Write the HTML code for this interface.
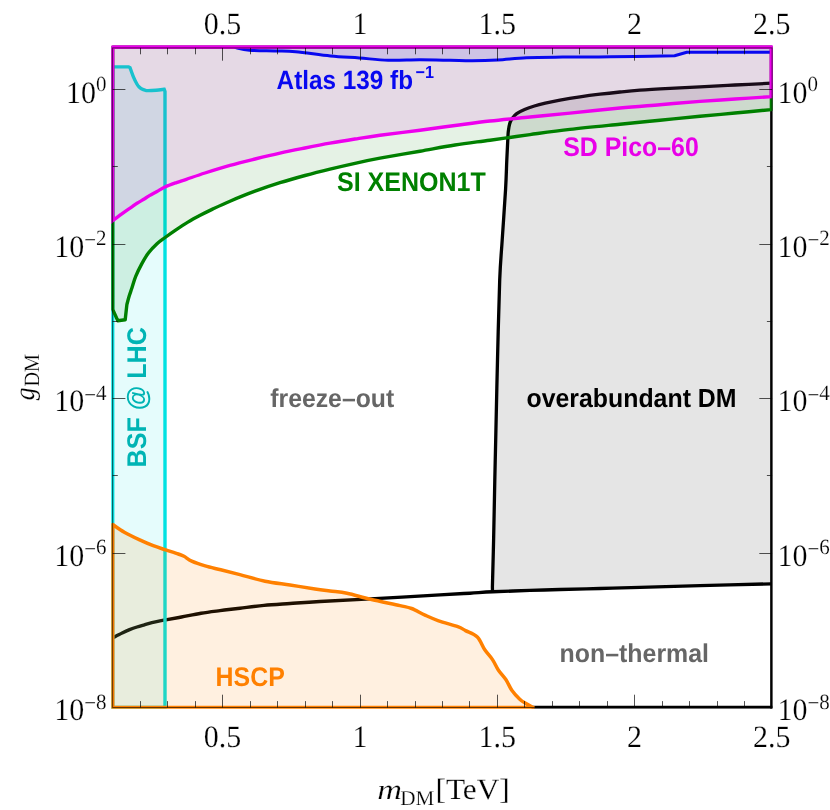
<!DOCTYPE html>
<html><head><meta charset="utf-8"><title>plot</title>
<style>
html,body{margin:0;padding:0;background:#fff;}
body{width:830px;height:810px;overflow:hidden;font-family:"Liberation Sans",sans-serif;}
svg{display:block;will-change:transform;}
text{-webkit-font-smoothing:antialiased;}
</style></head><body>
<svg width="830" height="810" viewBox="0 0 830 810" text-rendering="geometricPrecision">
<rect width="830" height="810" fill="#ffffff"/>
<defs><clipPath id="pc"><rect x="111.3" y="44.8" width="661.3" height="664.0"/></clipPath></defs>
<g clip-path="url(#pc)">
<path d="M771.40 83.20 C765.33 83.50 746.90 84.38 735.00 85.00 C723.10 85.62 710.83 86.33 700.00 86.90 C689.17 87.47 680.00 87.85 670.00 88.40 C660.00 88.95 648.33 89.60 640.00 90.20 C631.67 90.80 626.67 91.33 620.00 92.00 C613.33 92.67 606.67 93.38 600.00 94.20 C593.33 95.02 586.67 95.90 580.00 96.90 C573.33 97.90 565.78 99.15 560.00 100.20 C554.22 101.25 549.57 102.23 545.30 103.20 C541.03 104.17 537.85 104.95 534.40 106.00 C530.95 107.05 527.55 108.23 524.60 109.50 C521.65 110.77 518.77 112.10 516.70 113.60 C514.63 115.10 513.36 116.85 512.20 118.50 C511.04 120.15 510.40 121.35 509.75 123.50 C509.10 125.65 508.62 128.77 508.30 131.40 C507.98 134.03 508.05 134.53 507.80 139.30 C507.55 144.07 507.17 151.75 506.80 160.00 C506.43 168.25 506.37 175.47 505.60 188.80 C504.83 202.13 503.18 224.80 502.20 240.00 C501.22 255.20 500.48 260.00 499.70 280.00 C498.92 300.00 498.17 333.33 497.50 360.00 C496.83 386.67 496.15 420.00 495.70 440.00 C495.25 460.00 495.15 463.33 494.80 480.00 C494.45 496.67 494.00 522.17 493.60 540.00 C493.20 557.83 492.60 579.17 492.40 587.00 L492.50 591.80 C498.92 591.57 518.78 590.78 530.00 590.40 C541.22 590.02 548.33 589.82 560.00 589.50 C571.67 589.18 586.67 588.85 600.00 588.50 C613.33 588.15 623.33 587.88 640.00 587.40 C656.67 586.92 678.10 586.18 700.00 585.60 C721.90 585.02 759.50 584.18 771.40 583.90 Z" fill="#000" fill-opacity="0.10" stroke="none"/>
<path d="M771.40 83.20 C765.33 83.50 746.90 84.38 735.00 85.00 C723.10 85.62 710.83 86.33 700.00 86.90 C689.17 87.47 680.00 87.85 670.00 88.40 C660.00 88.95 648.33 89.60 640.00 90.20 C631.67 90.80 626.67 91.33 620.00 92.00 C613.33 92.67 606.67 93.38 600.00 94.20 C593.33 95.02 586.67 95.90 580.00 96.90 C573.33 97.90 565.78 99.15 560.00 100.20 C554.22 101.25 549.57 102.23 545.30 103.20 C541.03 104.17 537.85 104.95 534.40 106.00 C530.95 107.05 527.55 108.23 524.60 109.50 C521.65 110.77 518.77 112.10 516.70 113.60 C514.63 115.10 513.36 116.85 512.20 118.50 C511.04 120.15 510.40 121.35 509.75 123.50 C509.10 125.65 508.62 128.77 508.30 131.40 C507.98 134.03 508.05 134.53 507.80 139.30 C507.55 144.07 507.17 151.75 506.80 160.00 C506.43 168.25 506.37 175.47 505.60 188.80 C504.83 202.13 503.18 224.80 502.20 240.00 C501.22 255.20 500.48 260.00 499.70 280.00 C498.92 300.00 498.17 333.33 497.50 360.00 C496.83 386.67 496.15 420.00 495.70 440.00 C495.25 460.00 495.15 463.33 494.80 480.00 C494.45 496.67 494.00 522.17 493.60 540.00 C493.20 557.83 492.60 579.17 492.40 587.00 L492.50 591.80" fill="none" stroke="#000000" stroke-width="3.30" stroke-linejoin="round"/>
<path d="M112.70 637.80 C114.28 637.00 119.38 634.35 122.20 633.00 C125.02 631.65 127.13 630.70 129.60 629.70 C132.07 628.70 134.53 627.82 137.00 627.00 C139.47 626.18 141.92 625.52 144.40 624.80 C146.88 624.08 149.30 623.35 151.90 622.70 C154.50 622.05 157.70 621.37 160.00 620.90 C162.30 620.43 162.12 620.55 165.70 619.90 C169.28 619.25 175.62 618.12 181.50 617.00 C187.38 615.88 194.58 614.27 201.00 613.20 C207.42 612.13 213.50 611.43 220.00 610.60 C226.50 609.77 232.67 609.07 240.00 608.20 C247.33 607.33 255.65 606.18 264.00 605.40 C272.35 604.62 280.77 604.15 290.10 603.50 C299.43 602.85 306.60 602.27 320.00 601.50 C333.40 600.73 350.50 600.00 370.50 598.90 C390.50 597.80 423.42 595.85 440.00 594.90 C456.58 593.95 461.22 593.72 470.00 593.20 C478.78 592.68 482.70 592.27 492.70 591.80 C502.70 591.33 518.78 590.78 530.00 590.40 C541.22 590.02 548.33 589.82 560.00 589.50 C571.67 589.18 586.67 588.85 600.00 588.50 C613.33 588.15 623.33 587.88 640.00 587.40 C656.67 586.92 678.10 586.18 700.00 585.60 C721.90 585.02 759.50 584.18 771.40 583.90" fill="none" stroke="#000000" stroke-width="3.40" stroke-linejoin="round"/>
<path d="M531.50 707.30 L772.60 707.30" fill="none" stroke="#000" stroke-width="3.0"/>
<path d="M771.40 83.00 L771.40 708.70" fill="none" stroke="#000000" stroke-width="2.5"/>
<path d="M112.70 66.90 L128.60 66.90 L130.00 67.60 C130.57 69.15 132.25 74.17 133.40 76.90 C134.55 79.63 135.93 82.32 136.90 84.00 C137.87 85.68 138.37 86.17 139.20 87.00 C140.03 87.83 140.93 88.47 141.90 89.00 C142.87 89.53 143.98 89.93 145.00 90.20 C146.02 90.47 146.17 90.60 148.00 90.60 C149.83 90.60 153.30 90.42 156.00 90.20 C158.70 89.98 162.83 89.45 164.20 89.30 L165.00 91.50 L165.00 707.40 L112.70 707.40 Z" fill="#00e2e2" fill-opacity="0.10" stroke="#00e2e2" stroke-width="3.40" stroke-linejoin="miter"/>
<path d="M112.70 524.50 C114.63 525.78 119.80 529.63 124.30 532.20 C128.80 534.77 134.88 537.65 139.70 539.90 C144.52 542.15 148.87 544.03 153.20 545.70 C157.53 547.37 161.52 548.52 165.70 549.90 C169.88 551.28 175.25 552.93 178.30 554.00 C181.35 555.07 181.77 555.12 184.00 556.30 C186.23 557.48 188.17 559.50 191.70 561.10 C195.23 562.70 200.37 564.45 205.20 565.90 C210.03 567.35 214.92 568.35 220.70 569.80 C226.48 571.25 232.52 572.70 239.90 574.60 C247.28 576.50 256.65 579.47 265.00 581.20 C273.35 582.93 281.67 583.72 290.00 585.00 C298.33 586.28 308.33 587.90 315.00 588.90 C321.67 589.90 324.67 590.27 330.00 591.00 C335.33 591.73 340.25 591.92 347.00 593.30 C353.75 594.68 361.67 597.25 370.50 599.30 C379.33 601.35 393.15 604.07 400.00 605.60 C406.85 607.13 407.43 606.92 411.60 608.50 C415.77 610.08 420.50 613.05 425.00 615.10 C429.50 617.15 433.13 618.88 438.60 620.80 C444.07 622.72 453.32 624.97 457.80 626.60 C462.28 628.23 462.25 628.87 465.50 630.60 C468.75 632.33 474.08 633.80 477.30 637.00 C480.52 640.20 482.27 646.03 484.80 649.80 C487.33 653.57 490.25 656.23 492.50 659.60 C494.75 662.97 496.05 666.63 498.30 670.00 C500.55 673.37 503.75 676.43 506.00 679.80 C508.25 683.17 509.55 687.02 511.80 690.20 C514.05 693.38 517.13 696.67 519.50 698.90 C521.87 701.13 523.75 702.18 526.00 703.60 C528.25 705.02 531.83 706.77 533.00 707.40 L112.70 707.40 Z" fill="#ff8000" fill-opacity="0.12" stroke="#ff8000" stroke-width="3.50" stroke-linejoin="round"/>
<path d="M112.70 47.10 L112.70 309.40 L117.80 320.70 L125.20 319.80 L126.90 304.40 C127.28 303.00 128.37 298.73 129.20 296.00 C130.03 293.27 130.82 291.27 131.90 288.00 C132.98 284.73 134.08 280.38 135.70 276.40 C137.32 272.42 139.48 268.00 141.60 264.10 C143.72 260.20 145.83 256.40 148.40 253.00 C150.97 249.60 154.22 246.28 157.00 243.70 C159.78 241.12 162.00 239.77 165.10 237.50 C168.20 235.23 171.80 232.67 175.60 230.10 C179.40 227.53 183.80 224.57 187.90 222.10 C192.00 219.63 196.08 217.47 200.20 215.30 C204.32 213.13 207.63 211.45 212.60 209.10 C217.57 206.75 222.93 204.18 230.00 201.20 C237.07 198.22 246.67 194.28 255.00 191.20 C263.33 188.12 271.67 185.32 280.00 182.70 C288.33 180.08 296.67 177.77 305.00 175.50 C313.33 173.23 321.67 171.13 330.00 169.10 C338.33 167.07 346.67 165.12 355.00 163.30 C363.33 161.48 369.17 160.22 380.00 158.20 C390.83 156.18 407.50 153.40 420.00 151.20 C432.50 149.00 443.33 146.83 455.00 145.00 C466.67 143.17 477.50 141.93 490.00 140.20 C502.50 138.47 516.67 136.40 530.00 134.60 C543.33 132.80 555.00 131.13 570.00 129.40 C585.00 127.67 605.00 125.73 620.00 124.20 C635.00 122.67 646.67 121.52 660.00 120.20 C673.33 118.88 687.50 117.50 700.00 116.30 C712.50 115.10 723.10 114.12 735.00 113.00 C746.90 111.88 765.33 110.17 771.40 109.60 L771.40 47.10 Z" fill="#008000" fill-opacity="0.10" stroke="#008000" stroke-width="3.40" stroke-linejoin="round"/>
<path d="M112.70 47.10 L112.70 220.70 C113.92 219.78 117.95 216.72 120.00 215.20 C122.05 213.68 122.95 213.03 125.00 211.60 C127.05 210.17 130.30 208.00 132.30 206.60 C134.30 205.20 134.93 204.50 137.00 203.20 C139.07 201.90 142.63 200.07 144.70 198.80 C146.77 197.53 147.35 196.82 149.40 195.60 C151.45 194.38 154.40 192.93 157.00 191.50 C159.60 190.07 161.75 188.48 165.00 187.00 C168.25 185.52 172.93 183.88 176.50 182.60 C180.07 181.32 181.65 180.90 186.40 179.30 C191.15 177.70 197.73 175.32 205.00 173.00 C212.27 170.68 221.67 167.73 230.00 165.40 C238.33 163.07 246.67 161.05 255.00 159.00 C263.33 156.95 271.67 154.93 280.00 153.10 C288.33 151.27 296.67 149.65 305.00 148.00 C313.33 146.35 321.67 144.70 330.00 143.20 C338.33 141.70 346.67 140.33 355.00 139.00 C363.33 137.67 369.17 136.67 380.00 135.20 C390.83 133.73 407.50 131.82 420.00 130.20 C432.50 128.58 443.33 127.03 455.00 125.50 C466.67 123.97 477.50 122.42 490.00 121.00 C502.50 119.58 516.67 118.32 530.00 117.00 C543.33 115.68 555.00 114.60 570.00 113.10 C585.00 111.60 605.00 109.40 620.00 108.00 C635.00 106.60 646.67 105.80 660.00 104.70 C673.33 103.60 687.50 102.35 700.00 101.40 C712.50 100.45 723.10 99.80 735.00 99.00 C746.90 98.20 765.33 97.00 771.40 96.60 L771.40 47.10 Z" fill="#ee00ee" fill-opacity="0.10" stroke="#ee00ee" stroke-width="3.40" stroke-linejoin="miter"/>
<path d="M234.70 47.40 C237.15 47.87 242.68 49.60 249.40 50.20 C256.12 50.80 267.28 50.75 275.00 51.00 C282.72 51.25 286.47 50.87 295.70 51.70 C304.93 52.53 319.80 54.95 330.40 56.00 C341.00 57.05 349.67 57.30 359.30 58.00 C368.93 58.70 378.08 59.90 388.20 60.20 C398.32 60.50 409.70 59.78 420.00 59.80 C430.30 59.82 441.33 60.13 450.00 60.30 C458.67 60.47 464.07 60.85 472.00 60.80 C479.93 60.75 488.52 60.52 497.60 60.00 C506.68 59.48 515.67 58.18 526.50 57.70 C537.33 57.22 550.55 57.22 562.60 57.10 C574.65 56.98 586.73 57.12 598.80 57.00 C610.87 56.88 622.37 56.62 635.00 56.40 C647.63 56.18 668.00 55.82 674.60 55.70 L686.80 52.30 L771.40 52.30 L771.40 47.10 Z" fill="#0808f0" fill-opacity="0.10" stroke="none"/>
<path d="M234.70 47.40 C237.15 47.87 242.68 49.60 249.40 50.20 C256.12 50.80 267.28 50.75 275.00 51.00 C282.72 51.25 286.47 50.87 295.70 51.70 C304.93 52.53 319.80 54.95 330.40 56.00 C341.00 57.05 349.67 57.30 359.30 58.00 C368.93 58.70 378.08 59.90 388.20 60.20 C398.32 60.50 409.70 59.78 420.00 59.80 C430.30 59.82 441.33 60.13 450.00 60.30 C458.67 60.47 464.07 60.85 472.00 60.80 C479.93 60.75 488.52 60.52 497.60 60.00 C506.68 59.48 515.67 58.18 526.50 57.70 C537.33 57.22 550.55 57.22 562.60 57.10 C574.65 56.98 586.73 57.12 598.80 57.00 C610.87 56.88 622.37 56.62 635.00 56.40 C647.63 56.18 668.00 55.82 674.60 55.70 L686.80 52.30 L771.40 52.30" fill="none" stroke="#0808f0" stroke-width="3.00" stroke-linejoin="round"/>
<path d="M112.70 47.10 L771.40 47.10 L771.40 96.00" fill="none" stroke="#ee00ee" stroke-width="3.40"/>
</g>
<g stroke="#000" stroke-opacity="0.6" fill="none">
<rect x="112.60" y="47.90" width="659.50" height="659.60" stroke-width="1.0"/>
</g>
<g stroke="#000" stroke-opacity="0.75" stroke-width="0.9" fill="none">
<path d="M140.50 707.50 v-6.40 M140.50 47.90 v6.40 M167.50 707.50 v-6.40 M167.50 47.90 v6.40 M195.50 707.50 v-6.40 M195.50 47.90 v6.40 M222.50 707.50 v-12.80 M222.50 47.90 v12.80 M250.50 707.50 v-6.40 M250.50 47.90 v6.40 M277.50 707.50 v-6.40 M277.50 47.90 v6.40 M305.50 707.50 v-6.40 M305.50 47.90 v6.40 M332.50 707.50 v-6.40 M332.50 47.90 v6.40 M360.50 707.50 v-12.80 M360.50 47.90 v12.80 M387.50 707.50 v-6.40 M387.50 47.90 v6.40 M415.50 707.50 v-6.40 M415.50 47.90 v6.40 M442.50 707.50 v-6.40 M442.50 47.90 v6.40 M469.50 707.50 v-6.40 M469.50 47.90 v6.40 M497.50 707.50 v-12.80 M497.50 47.90 v12.80 M524.50 707.50 v-6.40 M524.50 47.90 v6.40 M552.50 707.50 v-6.40 M552.50 47.90 v6.40 M579.50 707.50 v-6.40 M579.50 47.90 v6.40 M607.50 707.50 v-6.40 M607.50 47.90 v6.40 M634.50 707.50 v-12.80 M634.50 47.90 v12.80 M662.50 707.50 v-6.40 M662.50 47.90 v6.40 M689.50 707.50 v-6.40 M689.50 47.90 v6.40 M717.50 707.50 v-6.40 M717.50 47.90 v6.40 M744.50 707.50 v-6.40 M744.50 47.90 v6.40 M112.60 89.50 h12.80 M772.10 89.50 h-12.80 M112.60 166.50 h5.20 M772.10 166.50 h-5.20 M112.60 244.50 h12.80 M772.10 244.50 h-12.80 M112.60 321.50 h5.20 M772.10 321.50 h-5.20 M112.60 398.50 h12.80 M772.10 398.50 h-12.80 M112.60 475.50 h5.20 M772.10 475.50 h-5.20 M112.60 553.50 h12.80 M772.10 553.50 h-12.80"/>
</g>
<text transform="translate(276.60,89.30) scale(1.000,1.085)" fill="#0808f0" font-size="24.30" font-family="Liberation Sans, sans-serif" font-weight="bold">Atlas 139 fb<tspan dx="2.6" dy="-10.8" font-size="16.2">−1</tspan></text>
<text transform="translate(563.20,156.00) scale(1.000,1.085)" fill="#e800e8" font-size="24.90" font-family="Liberation Sans, sans-serif" font-weight="bold">SD Pico–60</text>
<text transform="translate(337.00,190.80) scale(1.005,1.085)" fill="#008000" font-size="24.90" font-family="Liberation Sans, sans-serif" font-weight="bold">SI XENON1T</text>
<text transform="translate(270.30,407.20) scale(0.995,1.035)" fill="#666666" font-size="24.90" font-family="Liberation Sans, sans-serif" font-weight="bold">freeze–out</text>
<text transform="translate(526.50,407.00) scale(0.999,1.050)" fill="#000000" font-size="24.90" font-family="Liberation Sans, sans-serif" font-weight="bold">overabundant DM</text>
<text transform="translate(559.60,662.20) scale(1.000,1.035)" fill="#666666" font-size="24.90" font-family="Liberation Sans, sans-serif" font-weight="bold">non–thermal</text>
<text transform="translate(215.60,685.80) scale(1.000,1.085)" fill="#ff8000" font-size="24.90" font-family="Liberation Sans, sans-serif" font-weight="bold">HSCP</text>
<text transform="translate(145.9,467.4) rotate(-90) scale(1.008,1.085)" fill="#00b4b4" font-size="24.90" font-family="Liberation Sans, sans-serif" font-weight="bold">BSF @ LHC</text>
<text transform="translate(222.60,34.00) scale(1,1.035)" fill="#000" stroke="#fff" stroke-width="0.2" font-size="30.00" font-family="Liberation Serif, serif" text-anchor="middle">0.5</text>
<text transform="translate(222.60,747.30) scale(1,1.035)" fill="#000" stroke="#fff" stroke-width="0.2" font-size="30.00" font-family="Liberation Serif, serif" text-anchor="middle">0.5</text>
<text transform="translate(359.88,34.00) scale(1,1.035)" fill="#000" stroke="#fff" stroke-width="0.2" font-size="30.00" font-family="Liberation Serif, serif" text-anchor="middle">1</text>
<text transform="translate(359.88,747.30) scale(1,1.035)" fill="#000" stroke="#fff" stroke-width="0.2" font-size="30.00" font-family="Liberation Serif, serif" text-anchor="middle">1</text>
<text transform="translate(497.15,34.00) scale(1,1.035)" fill="#000" stroke="#fff" stroke-width="0.2" font-size="30.00" font-family="Liberation Serif, serif" text-anchor="middle">1.5</text>
<text transform="translate(497.15,747.30) scale(1,1.035)" fill="#000" stroke="#fff" stroke-width="0.2" font-size="30.00" font-family="Liberation Serif, serif" text-anchor="middle">1.5</text>
<text transform="translate(634.43,34.00) scale(1,1.035)" fill="#000" stroke="#fff" stroke-width="0.2" font-size="30.00" font-family="Liberation Serif, serif" text-anchor="middle">2</text>
<text transform="translate(634.43,747.30) scale(1,1.035)" fill="#000" stroke="#fff" stroke-width="0.2" font-size="30.00" font-family="Liberation Serif, serif" text-anchor="middle">2</text>
<text transform="translate(771.70,34.00) scale(1,1.035)" fill="#000" stroke="#fff" stroke-width="0.2" font-size="30.00" font-family="Liberation Serif, serif" text-anchor="middle">2.5</text>
<text transform="translate(771.70,747.30) scale(1,1.035)" fill="#000" stroke="#fff" stroke-width="0.2" font-size="30.00" font-family="Liberation Serif, serif" text-anchor="middle">2.5</text>
<text transform="translate(106.50,102.50) scale(1,1.035)" fill="#000" stroke="#fff" stroke-width="0.2" font-size="30.00" font-family="Liberation Serif, serif" text-anchor="end">10<tspan dy="-11.2" font-size="21">0</tspan></text>
<text transform="translate(777.50,102.50) scale(1,1.035)" fill="#000" stroke="#fff" stroke-width="0.2" font-size="30.00" font-family="Liberation Serif, serif" text-anchor="start">10<tspan dy="-11.2" font-size="21">0</tspan></text>
<text transform="translate(106.50,256.97) scale(1,1.035)" fill="#000" stroke="#fff" stroke-width="0.2" font-size="30.00" font-family="Liberation Serif, serif" text-anchor="end">10<tspan dy="-9.6" font-size="21">−</tspan><tspan dy="-1.6" font-size="21">2</tspan></text>
<text transform="translate(777.50,256.97) scale(1,1.035)" fill="#000" stroke="#fff" stroke-width="0.2" font-size="30.00" font-family="Liberation Serif, serif" text-anchor="start">10<tspan dy="-9.6" font-size="21">−</tspan><tspan dy="-1.6" font-size="21">2</tspan></text>
<text transform="translate(106.50,411.45) scale(1,1.035)" fill="#000" stroke="#fff" stroke-width="0.2" font-size="30.00" font-family="Liberation Serif, serif" text-anchor="end">10<tspan dy="-9.6" font-size="21">−</tspan><tspan dy="-1.6" font-size="21">4</tspan></text>
<text transform="translate(777.50,411.45) scale(1,1.035)" fill="#000" stroke="#fff" stroke-width="0.2" font-size="30.00" font-family="Liberation Serif, serif" text-anchor="start">10<tspan dy="-9.6" font-size="21">−</tspan><tspan dy="-1.6" font-size="21">4</tspan></text>
<text transform="translate(106.50,565.92) scale(1,1.035)" fill="#000" stroke="#fff" stroke-width="0.2" font-size="30.00" font-family="Liberation Serif, serif" text-anchor="end">10<tspan dy="-9.6" font-size="21">−</tspan><tspan dy="-1.6" font-size="21">6</tspan></text>
<text transform="translate(777.50,565.92) scale(1,1.035)" fill="#000" stroke="#fff" stroke-width="0.2" font-size="30.00" font-family="Liberation Serif, serif" text-anchor="start">10<tspan dy="-9.6" font-size="21">−</tspan><tspan dy="-1.6" font-size="21">6</tspan></text>
<text transform="translate(106.50,720.40) scale(1,1.035)" fill="#000" stroke="#fff" stroke-width="0.2" font-size="30.00" font-family="Liberation Serif, serif" text-anchor="end">10<tspan dy="-9.6" font-size="21">−</tspan><tspan dy="-1.6" font-size="21">8</tspan></text>
<text transform="translate(777.50,720.40) scale(1,1.035)" fill="#000" stroke="#fff" stroke-width="0.2" font-size="30.00" font-family="Liberation Serif, serif" text-anchor="start">10<tspan dy="-9.6" font-size="21">−</tspan><tspan dy="-1.6" font-size="21">8</tspan></text>
<text transform="translate(377.30,799.40) rotate(0) scale(1.200,1.000)" fill="#000" stroke="#fff" stroke-width="0.2" font-size="28.50" font-family="Liberation Serif, serif" font-style="italic">m</text>
<text transform="translate(400.30,805.20) rotate(0) scale(1.000,1.000)" fill="#000" stroke="#fff" stroke-width="0.2" font-size="21.20" font-family="Liberation Serif, serif" >DM</text>
<text transform="translate(435.50,799.40) rotate(0) scale(1.060,1.000)" fill="#000" stroke="#fff" stroke-width="0.2" font-size="29.50" font-family="Liberation Serif, serif" >[TeV]</text>
<text transform="translate(34.00,400.30) rotate(-90) scale(0.900,1.000)" fill="#000" stroke="#fff" stroke-width="0.2" font-size="28.50" font-family="Liberation Serif, serif" font-style="italic">g</text>
<text transform="translate(39.30,386.60) rotate(-90) scale(0.930,1.000)" fill="#000" stroke="#fff" stroke-width="0.2" font-size="21.80" font-family="Liberation Serif, serif" >DM</text>
</svg>
</body></html>
